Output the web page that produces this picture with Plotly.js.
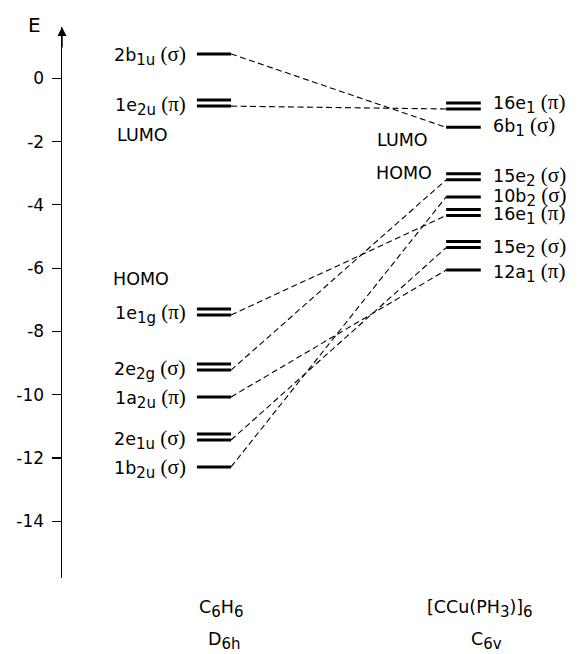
<!DOCTYPE html>
<html><head><meta charset="utf-8">
<script src="https://cdn.plot.ly/plotly-3.0.1.min.js"></script>
<style>html,body{margin:0;padding:0;background:#fff}</style>
</head><body><div id="chart" style="width:579px;height:654px"></div>
<script>
// ---- data ----
const leftLabels = ['2b<sub>1u</sub> (σ)','1e<sub>2u</sub> (π)','1e<sub>1g</sub> (π)','2e<sub>2g</sub> (σ)','1a<sub>2u</sub> (π)','2e<sub>1u</sub> (σ)','1b<sub>2u</sub> (σ)'];
const leftEnergies = [0.77,-0.88,-7.48,-9.22,-10.07,-11.43,-12.28];
const leftDegenerate = [false,true,true,true,false,true,false];
const rightLabels = ['16e<sub>1</sub> (π)','6b<sub>1</sub> (σ)','15e<sub>2</sub> (σ)','10b<sub>2</sub> (σ)','16e<sub>1</sub> (π)','15e<sub>2</sub> (σ)','12a<sub>1</sub> (π)'];
const rightEnergies = [-0.97,-1.55,-3.21,-3.75,-4.34,-5.35,-6.06];
const rightDegenerate = [true,false,true,false,true,true,false];
// correlation lines: [left index, right index]
const correlations = [[0,1],[1,0],[2,4],[3,2],[4,6],[5,5],[6,3]];
const yTicks = [0,-2,-4,-6,-8,-10,-12,-14];
const moleculeLabels = ['C<sub>6</sub>H<sub>6</sub>','[CCu(PH<sub>3</sub>)]<sub>6</sub>'];
const symmetryLabels = ['D<sub>6h</sub>','C<sub>6v</sub>'];
const leftFrontier = {LUMO:-1.79, HOMO:-6.34};
const rightFrontier = {LUMO:-1.95, HOMO:-2.99};

// ---- layout constants ----
const FONT = 'DejaVu Sans, Liberation Sans, Arial, sans-serif';
const LX = [26.1, 32.7], RX = [74.3, 81.0];
const GAP = 0.19;
const YR = [-15.79, 1.62];
const RIGHT_SHIFT = [2,1,0,0,-2,-3,-2];

function fmt(s){
  return s.replace(/<sub>(.*?)<\/sub>/g,'<sub><span style="font-size:15px">$1</span></sub>')
          .replace(/ \((σ|π)\)/g,'<span style="font-family:Liberation Serif, Times New Roman, serif;font-size:21px"> ($1)</span>');
}

const traces = [];
correlations.forEach(([li,ri])=>{
  traces.push({x:[LX[1],RX[0]], y:[leftEnergies[li], rightEnergies[ri]], mode:'lines',
    line:{color:'#000', width:1.1, dash:'6px,3.5px'}, hoverinfo:'skip', showlegend:false});
});
function addLevels(X, E, D){
  E.forEach((e,i)=>{
    traces.push({x:X, y:[e,e], mode:'lines', line:{color:'#000', width:3}, hoverinfo:'skip', showlegend:false});
    if(D[i]) traces.push({x:X, y:[e+GAP,e+GAP], mode:'lines', line:{color:'#000', width:3}, hoverinfo:'skip', showlegend:false});
  });
}
addLevels(LX, leftEnergies, leftDegenerate);
addLevels(RX, rightEnergies, rightDegenerate);

const ann = [];
const tf = {family:FONT, size:17.5, color:'#000'};
leftLabels.forEach((t,i)=>{
  const yc = leftEnergies[i] + (leftDegenerate[i]?GAP/2:0);
  ann.push({x:24.3, y:yc, xref:'x', yref:'y', text:fmt(t), showarrow:false, xanchor:'right', yanchor:'middle', font:tf, yshift:-2});
});
rightLabels.forEach((t,i)=>{
  const yc = rightEnergies[i] + (rightDegenerate[i]?GAP/2:0);
  ann.push({x:83.0, y:yc, xref:'x', yref:'y', text:fmt(t), showarrow:false, xanchor:'left', yanchor:'middle', font:tf, yshift:RIGHT_SHIFT[i]});
});
ann.push({x:15.5, y:leftFrontier.LUMO, xref:'x', yref:'y', text:'LUMO', showarrow:false, xanchor:'center', yanchor:'middle', font:tf});
ann.push({x:15.3, y:leftFrontier.HOMO, xref:'x', yref:'y', text:'HOMO', showarrow:false, xanchor:'center', yanchor:'middle', font:tf});
ann.push({x:65.8, y:rightFrontier.LUMO, xref:'x', yref:'y', text:'LUMO', showarrow:false, xanchor:'center', yanchor:'middle', font:tf});
ann.push({x:66.2, y:rightFrontier.HOMO, xref:'x', yref:'y', text:'HOMO', showarrow:false, xanchor:'center', yanchor:'middle', font:tf});
// molecule / symmetry labels
ann.push({x:30.9, y:-0.056, xref:'x', yref:'paper', text:fmt(moleculeLabels[0]), showarrow:false, font:tf, xanchor:'center', yanchor:'middle'});
ann.push({x:80.9, y:-0.056, xref:'x', yref:'paper', text:fmt(moleculeLabels[1]), showarrow:false, font:tf, xanchor:'center', yanchor:'middle'});
ann.push({x:31.5, y:-0.114, xref:'x', yref:'paper', text:fmt(symmetryLabels[0]), showarrow:false, font:tf, xanchor:'center', yanchor:'middle'});
ann.push({x:82.2, y:-0.114, xref:'x', yref:'paper', text:fmt(symmetryLabels[1]), showarrow:false, font:tf, xanchor:'center', yanchor:'middle'});
// E axis title and arrow
ann.push({x:-0.054, y:1.004, xref:'paper', yref:'paper', text:'E', showarrow:false, xanchor:'center', yanchor:'middle', font:{family:FONT, size:20, color:'#000'}});
ann.push({x:0, y:1, xref:'paper', yref:'paper', ax:0, ay:22, text:'', showarrow:true, arrowhead:2, arrowsize:1.2, arrowwidth:1.5, arrowcolor:'#000'});

const layout = {
  width:579, height:654,
  margin:{l:62, r:0, t:27, b:76},
  paper_bgcolor:'#fff', plot_bgcolor:'#fff',
  showlegend:false,
  xaxis:{range:[0,100], visible:false, fixedrange:true},
  yaxis:{range:YR, showline:true, linecolor:'#000', linewidth:1.5, ticks:'outside', ticklen:9, tickwidth:1.2, tickcolor:'#000',
         tickvals:yTicks, ticktext:yTicks.map(String), showgrid:false, zeroline:false, ticklabelstandoff:4,
         tickfont:{family:FONT, size:17, color:'#000'}, fixedrange:true},
  annotations:ann,
  font:{family:FONT}
};
Plotly.newPlot('chart', traces, layout, {displayModeBar:false, staticPlot:true});
</script></body></html>
